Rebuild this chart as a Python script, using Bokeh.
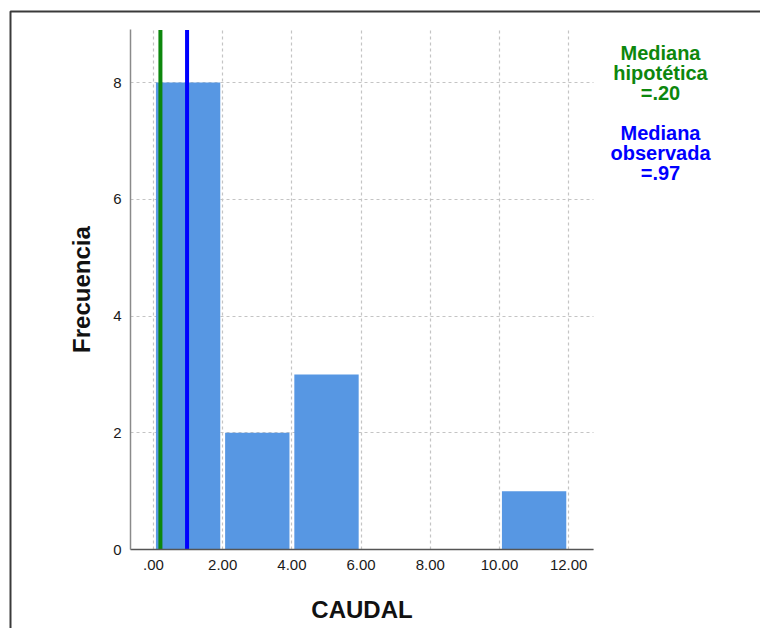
from bokeh.plotting import figure
from bokeh.models import Label, BoxAnnotation, FixedTicker, Range1d
from bokeh.embed import file_html
from bokeh.resources import INLINE

# Data
bin_left = [0, 2, 4, 10]
bin_right = [2, 4, 6, 12]
counts = [8, 2, 3, 1]
x_ticks = [0, 2, 4, 6, 8, 10, 12]
x_tick_labels = [".00", "2.00", "4.00", "6.00", "8.00", "10.00", "12.00"]
y_ticks = [0, 2, 4, 6, 8]
median_hyp = 0.20
median_obs = 0.97
hyp_text = "Mediana\nhipotética\n=.20"
obs_text = "Mediana\nobservada\n=.97"

FONT = "Liberation Sans"
BAR_COLOR = "#5797e3"
GREEN = "#0d870d"
BLUE = "#0000ff"

# visible data window of the chart area
X_LO, X_HI = -0.665, 12.72
Y_LO, Y_HI = 0.0, 8.9

W, H = 760, 628
# pixel placement of the chart area within the page
PX_X0, PX_PER_X = 153.0, 34.6      # x=0 at pixel 153
PX_Y0, PX_PER_Y = 549.0, 58.375    # y=0 at pixel 549

p = figure(width=W, height=H, output_backend="svg", toolbar_location=None, title=None,
           x_range=Range1d(-PX_X0 / PX_PER_X, (W - PX_X0) / PX_PER_X),
           y_range=Range1d(-(H - PX_Y0) / PX_PER_Y, PX_Y0 / PX_PER_Y),
           min_border=0, background_fill_color="white",
           border_fill_color="white", outline_line_color=None)

gap = 0.07
p.quad(left=[l + gap for l in bin_left], right=[r - gap for r in bin_right],
       bottom=0, top=counts, fill_color=BAR_COLOR, line_color=None)

p.segment(x0=[median_hyp], y0=[Y_LO], x1=[median_hyp], y1=[Y_HI],
          line_color=GREEN, line_width=4)
p.segment(x0=[median_obs], y0=[Y_LO], x1=[median_obs], y1=[Y_HI],
          line_color=BLUE, line_width=4)

# axes
p.xaxis.ticker = FixedTicker(ticks=x_ticks)
p.xaxis.major_label_overrides = {t: l for t, l in zip(x_ticks, x_tick_labels)}
p.yaxis.ticker = FixedTicker(ticks=y_ticks)
p.xaxis.fixed_location = Y_LO
p.yaxis.fixed_location = X_LO
p.xaxis.bounds = (X_LO, X_HI)
p.yaxis.bounds = (Y_LO, Y_HI)
for ax in (p.xaxis[0], p.yaxis[0]):
    ax.major_tick_line_color = None
    ax.minor_tick_line_color = None
    ax.major_tick_out = 0
    ax.major_tick_in = 0
    ax.minor_tick_out = 0
    ax.minor_tick_in = 0
    ax.major_label_text_font = FONT
    ax.major_label_text_font_size = "15px"
    ax.major_label_text_color = "#1a1a1a"
    ax.axis_label_text_font = FONT
    ax.axis_label_text_font_size = "24px"
    ax.axis_label_text_font_style = "bold"
    ax.axis_label_text_color = "#111111"
p.xaxis.axis_label = "CAUDAL"
p.yaxis.axis_label = "Frecuencia"
p.xaxis.axis_line_color = "#555555"
p.xaxis.axis_line_width = 1.5
p.yaxis.axis_line_color = "#8a8a8a"
p.yaxis.axis_line_width = 1.5
p.xaxis.major_label_standoff = 10
p.yaxis.major_label_standoff = 9
p.xaxis.axis_label_standoff = 23
p.yaxis.axis_label_standoff = 15

for g in (p.xgrid[0], p.ygrid[0]):
    g.grid_line_color = "#c4c4c4"
    g.grid_line_dash = "3 3"
    g.grid_line_width = 1.2
p.xgrid.bounds = (X_LO, X_HI)
p.ygrid.bounds = (Y_LO + 0.01, Y_HI)
try:
    p.xgrid.cross_bounds = (Y_LO, Y_HI)
    p.ygrid.cross_bounds = (X_LO, X_HI)
except Exception:
    p.xgrid.visible = False
    p.ygrid.visible = False
    p.segment(x0=x_ticks, y0=Y_LO, x1=x_ticks, y1=Y_HI, line_color="#c4c4c4",
              line_dash="3 3", line_width=1.2, level="underlay")
    p.segment(x0=X_LO, y0=y_ticks[1:], x1=X_HI, y1=y_ticks[1:], line_color="#c4c4c4",
              line_dash="3 3", line_width=1.2, level="underlay")

p.add_layout(Label(x=660, y=41, x_units="canvas", y_units="canvas", text=hyp_text,
                   text_align="center", text_baseline="top", text_font=FONT,
                   text_font_style="bold", text_font_size="20px", text_color=GREEN,
                   text_line_height=0.92))
p.add_layout(Label(x=660, y=121, x_units="canvas", y_units="canvas", text=obs_text,
                   text_align="center", text_baseline="top", text_font=FONT,
                   text_font_style="bold", text_font_size="20px", text_color=BLUE,
                   text_line_height=0.92))

p.add_layout(BoxAnnotation(left=10, right=1000, top=11, bottom=1000,
                           left_units="canvas", right_units="canvas",
                           top_units="canvas", bottom_units="canvas",
                           fill_color=None, fill_alpha=0, line_color="#3a3a3a",
                           line_alpha=1.0, line_width=2, level="overlay"))

open("out.html", "w").write(file_html(p, INLINE))
